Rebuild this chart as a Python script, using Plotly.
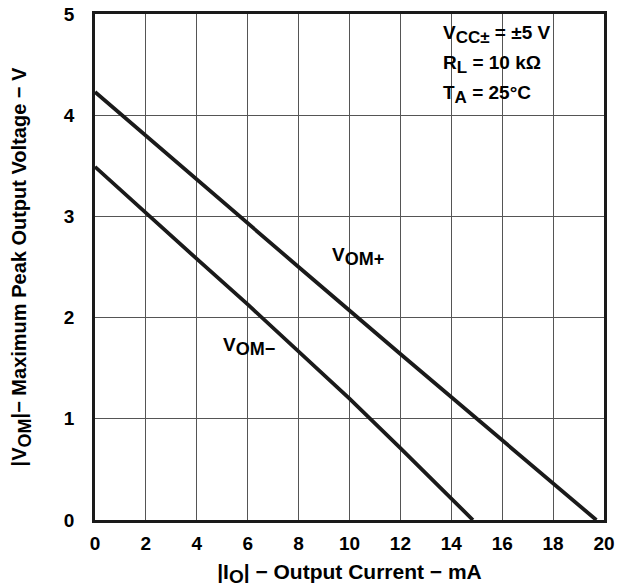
import plotly.graph_objects as go

# values
io_plus = [0, 4, 8, 12, 16, 19.7]
vom_plus = [4.23, 3.36, 2.50, 1.64, 0.79, 0]

io_minus = [0, 2, 4, 6, 8, 10, 12, 14.85]
vom_minus = [3.49, 3.03, 2.58, 2.13, 1.67, 1.20, 0.71, 0]

x_ticks = [0, 2, 4, 6, 8, 10, 12, 14, 16, 18, 20]
y_ticks = [0, 1, 2, 3, 4, 5]

font_family = "Liberation Sans, Arial, sans-serif"
line_style = dict(color="#1a1a1a", width=3.8)


def sub(txt, size):
    # plotly shrinks <sub> a lot, the reference keeps it near full size
    return f"<sub><span style='font-size:{size}px'>{txt}</span></sub>"


fig = go.Figure()

fig.add_scatter(x=io_plus, y=vom_plus, mode="lines", line=line_style,
                name="VOM+", hoverinfo="skip")
fig.add_scatter(x=io_minus, y=vom_minus, mode="lines", line=line_style,
                name="VOM-", hoverinfo="skip")

# curve labels
fig.add_annotation(x=9.25, y=2.6, text=f"<b>V{sub('OM+', 18)}</b>", showarrow=False,
                   xanchor="left", font=dict(size=19, color="black"))
fig.add_annotation(x=4.95, y=1.71, text=f"<b>V{sub('OM−', 18)}</b>", showarrow=False,
                   xanchor="left", font=dict(size=19, color="black"))

# conditions box
conditions = [
    f"<b>V{sub('CC±', 17)} = ±5 V</b>",
    f"<b>R{sub('L', 17)} = 10 kΩ</b>",
    f"<b>T{sub('A', 17)} = 25°C</b>",
]
for i, txt in enumerate(conditions):
    fig.add_annotation(x=13.6, y=4.80 - 0.296 * i, text=txt, showarrow=False,
                       xanchor="left", font=dict(size=19, color="black"))

axis_common = dict(
    showgrid=True,
    gridcolor="#555555",
    gridwidth=1,
    showline=True,
    linecolor="#1a1a1a",
    linewidth=2.5,
    mirror=True,
    zeroline=False,
    ticks="",
    ticklabeloverflow="allow",
    tickfont=dict(size=19, color="black", family=font_family),
)

fig.update_xaxes(
    range=[0, 20],
    tickvals=x_ticks,
    ticktext=[f"<b>{t}</b>" for t in x_ticks],
    ticklabelstandoff=4,
    title=dict(text=f"<b>|I{sub('O', 19)}| − Output Current − mA</b>",
               font=dict(size=21, color="black"), standoff=12),
    **axis_common,
)
fig.update_yaxes(
    range=[0, 5],
    tickvals=y_ticks,
    ticktext=[f"<b>{t}</b>" for t in y_ticks],
    ticklabelstandoff=14,
    title=dict(text=f"<b>|V{sub('OM', 18)}|− Maximum Peak Output Voltage − V</b>",
               font=dict(size=20, color="black"), standoff=32),
    **axis_common,
)

fig.update_layout(
    width=620,
    height=588,
    margin=dict(l=95, r=16, t=14, b=68, autoexpand=False),
    paper_bgcolor="white",
    plot_bgcolor="white",
    showlegend=False,
    font=dict(family=font_family, color="black"),
)

# drop the default page margin so the figure fills the window
fig.write_html(
    "out.html",
    config={"displayModeBar": False},
    post_script="document.body.style.margin='0';",
)
